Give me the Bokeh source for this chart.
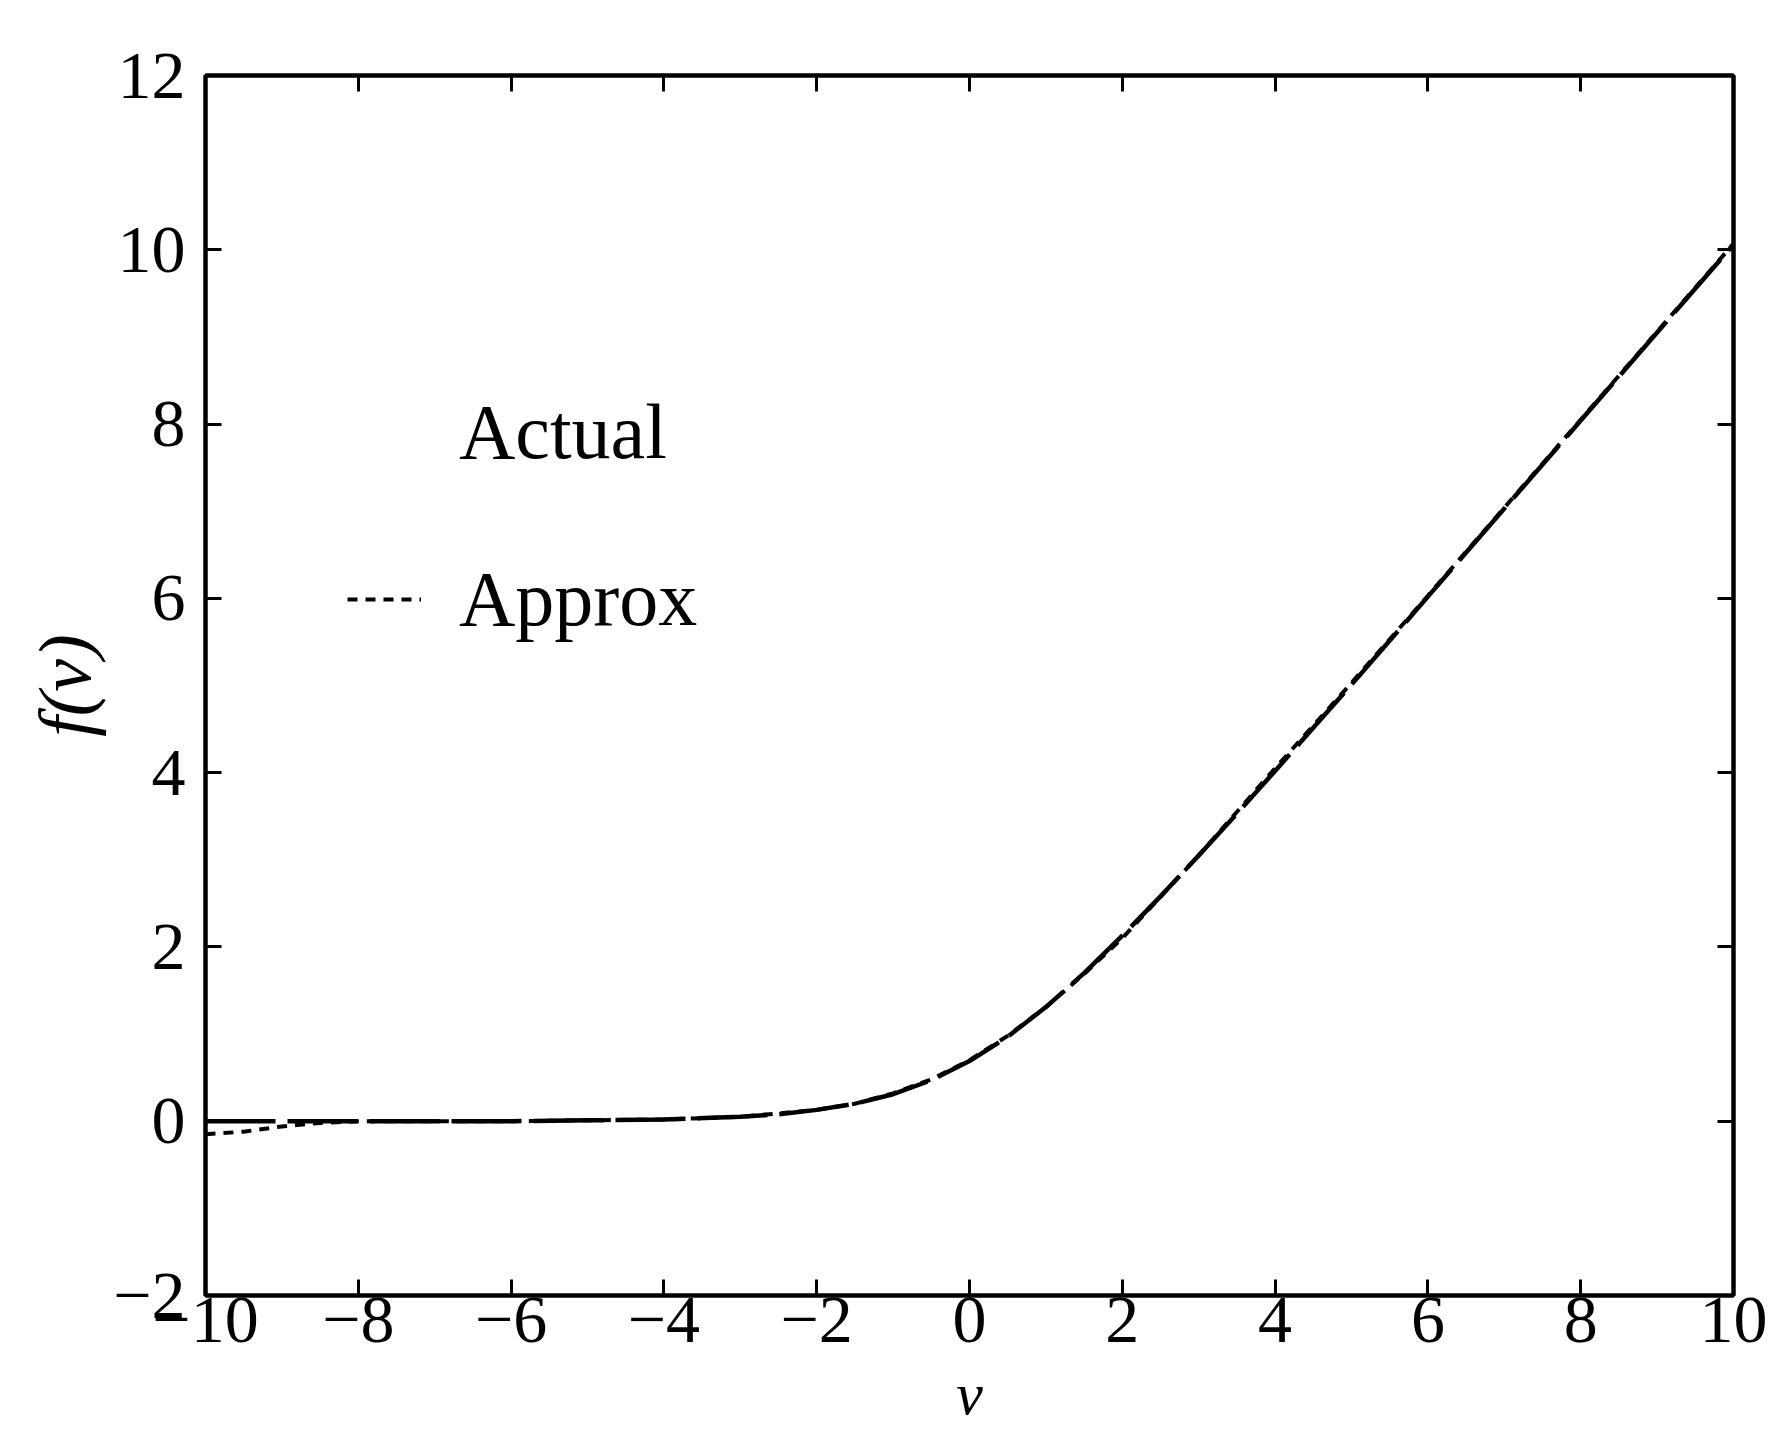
from bokeh.plotting import figure
from bokeh.models import Range1d, LinearAxis, FixedTicker, Legend, LegendItem
from bokeh.embed import file_html
from bokeh.resources import INLINE

# ---- data ----
v_actual = [-10, -9, -8, -7, -6, -5, -4, -3, -2.5, -2, -1.5, -1, -0.5, 0, 0.5, 1, 1.5, 2, 2.5, 3, 3.5, 4, 5, 6, 7, 8, 9, 10]
f_actual = [0.0, 0.0, 0.0, 0.0, 0.0, 0.01, 0.02, 0.05, 0.08, 0.13, 0.2, 0.31, 0.47, 0.69, 0.97, 1.31, 1.7, 2.13, 2.58, 3.05, 3.53, 4.02, 5.01, 6.02, 7.03, 8.04, 9.05, 10.06]

v_approx = [-10, -9.5, -9, -8.5, -8, -6, -4, -3, -2, -1.5, -1, -0.5, 0, 0.5, 1, 1.5, 2, 3, 4, 5, 6, 7, 8, 9, 10]
f_approx = [-0.15, -0.12, -0.06, -0.02, 0.0, 0.0, 0.02, 0.05, 0.13, 0.2, 0.32, 0.48, 0.7, 0.98, 1.31, 1.69, 2.1, 3.05, 4.05, 5.03, 6.03, 7.04, 8.05, 9.06, 10.07]

x_ticks = [-10, -8, -6, -4, -2, 0, 2, 4, 6, 8, 10]
x_tick_labels = ["\u221210", "\u22128", "\u22126", "\u22124", "\u22122", "0", "2", "4", "6", "8", "10"]
y_ticks = [-2, 0, 2, 4, 6, 8, 10, 12]
y_tick_labels = ["\u22122", "0", "2", "4", "6", "8", "10", "12"]

series_names = ["Actual", "Approx"]
x_label = "v"
y_label = "f(v)"

FONT = "Liberation Serif"

p = figure(width=1786, height=1434,
           x_range=Range1d(-10, 10), y_range=Range1d(-2, 12),
           output_backend="svg", toolbar_location=None,
           min_border_left=205, min_border_right=53,
           min_border_top=75, min_border_bottom=139,
           background_fill_color="white", border_fill_color="white")

p.xgrid.visible = False
p.ygrid.visible = False
p.outline_line_color = "black"
p.outline_line_width = 4

def style_axis(ax, ticks, labels=None, show_labels=True):
    ax.ticker = FixedTicker(ticks=ticks)
    ax.axis_line_width = 4
    ax.axis_line_color = "black"
    ax.major_tick_in = 16
    ax.major_tick_out = 0
    ax.major_tick_line_width = 3
    ax.minor_tick_in = 0
    ax.minor_tick_out = 0
    ax.minor_tick_line_color = None
    if show_labels:
        ax.major_label_overrides = dict(zip(ticks, labels))
        ax.major_label_text_font = FONT
        ax.major_label_text_font_size = "68px"
        ax.major_label_text_color = "black"
    else:
        ax.major_label_text_font_size = "0px"
        ax.major_label_text_color = None
        ax.major_label_standoff = 0

xa = p.xaxis[0]
ya = p.yaxis[0]
style_axis(xa, x_ticks, x_tick_labels)
style_axis(ya, y_ticks, y_tick_labels)
xa.major_label_standoff = 2
ya.major_label_standoff = 20

xa.axis_label = x_label
xa.axis_label_text_font = FONT
xa.axis_label_text_font_style = "italic"
xa.axis_label_text_font_size = "60px"
xa.axis_label_standoff = 16
xa.axis_label_text_color = "black"

ya.axis_label = y_label
ya.axis_label_text_font = FONT
ya.axis_label_text_font_style = "italic"
ya.axis_label_text_font_size = "74px"
ya.axis_label_standoff = 4
ya.axis_label_text_color = "black"

top = LinearAxis()
style_axis(top, x_ticks, show_labels=False)
p.add_layout(top, "above")
right = LinearAxis()
style_axis(right, y_ticks, show_labels=False)
p.add_layout(right, "right")

r_actual = p.line(v_actual, f_actual, line_color="black", line_width=4.5, line_dash="70 12")
r_approx = p.line(v_approx, f_approx, line_color="black", line_width=4, line_dash="10 8")

# dummy renderer for the 'Actual' legend entry (no visible sample in the original)
r_blank = p.line([0], [0], line_alpha=0)

legend = Legend(items=[LegendItem(label=series_names[0], renderers=[r_blank]),
                       LegendItem(label=series_names[1], renderers=[r_approx])],
                location=(142, 651))
legend.label_text_font = FONT
legend.label_text_font_size = "78px"
legend.label_text_color = "black"
legend.glyph_width = 74
legend.glyph_height = 90
legend.label_height = 90
legend.label_standoff = 38
legend.spacing = 77
legend.padding = 0
legend.margin = 0
legend.border_line_color = None
legend.background_fill_alpha = 0
p.add_layout(legend, "center")

open("out.html", "w").write(file_html(p, INLINE))
